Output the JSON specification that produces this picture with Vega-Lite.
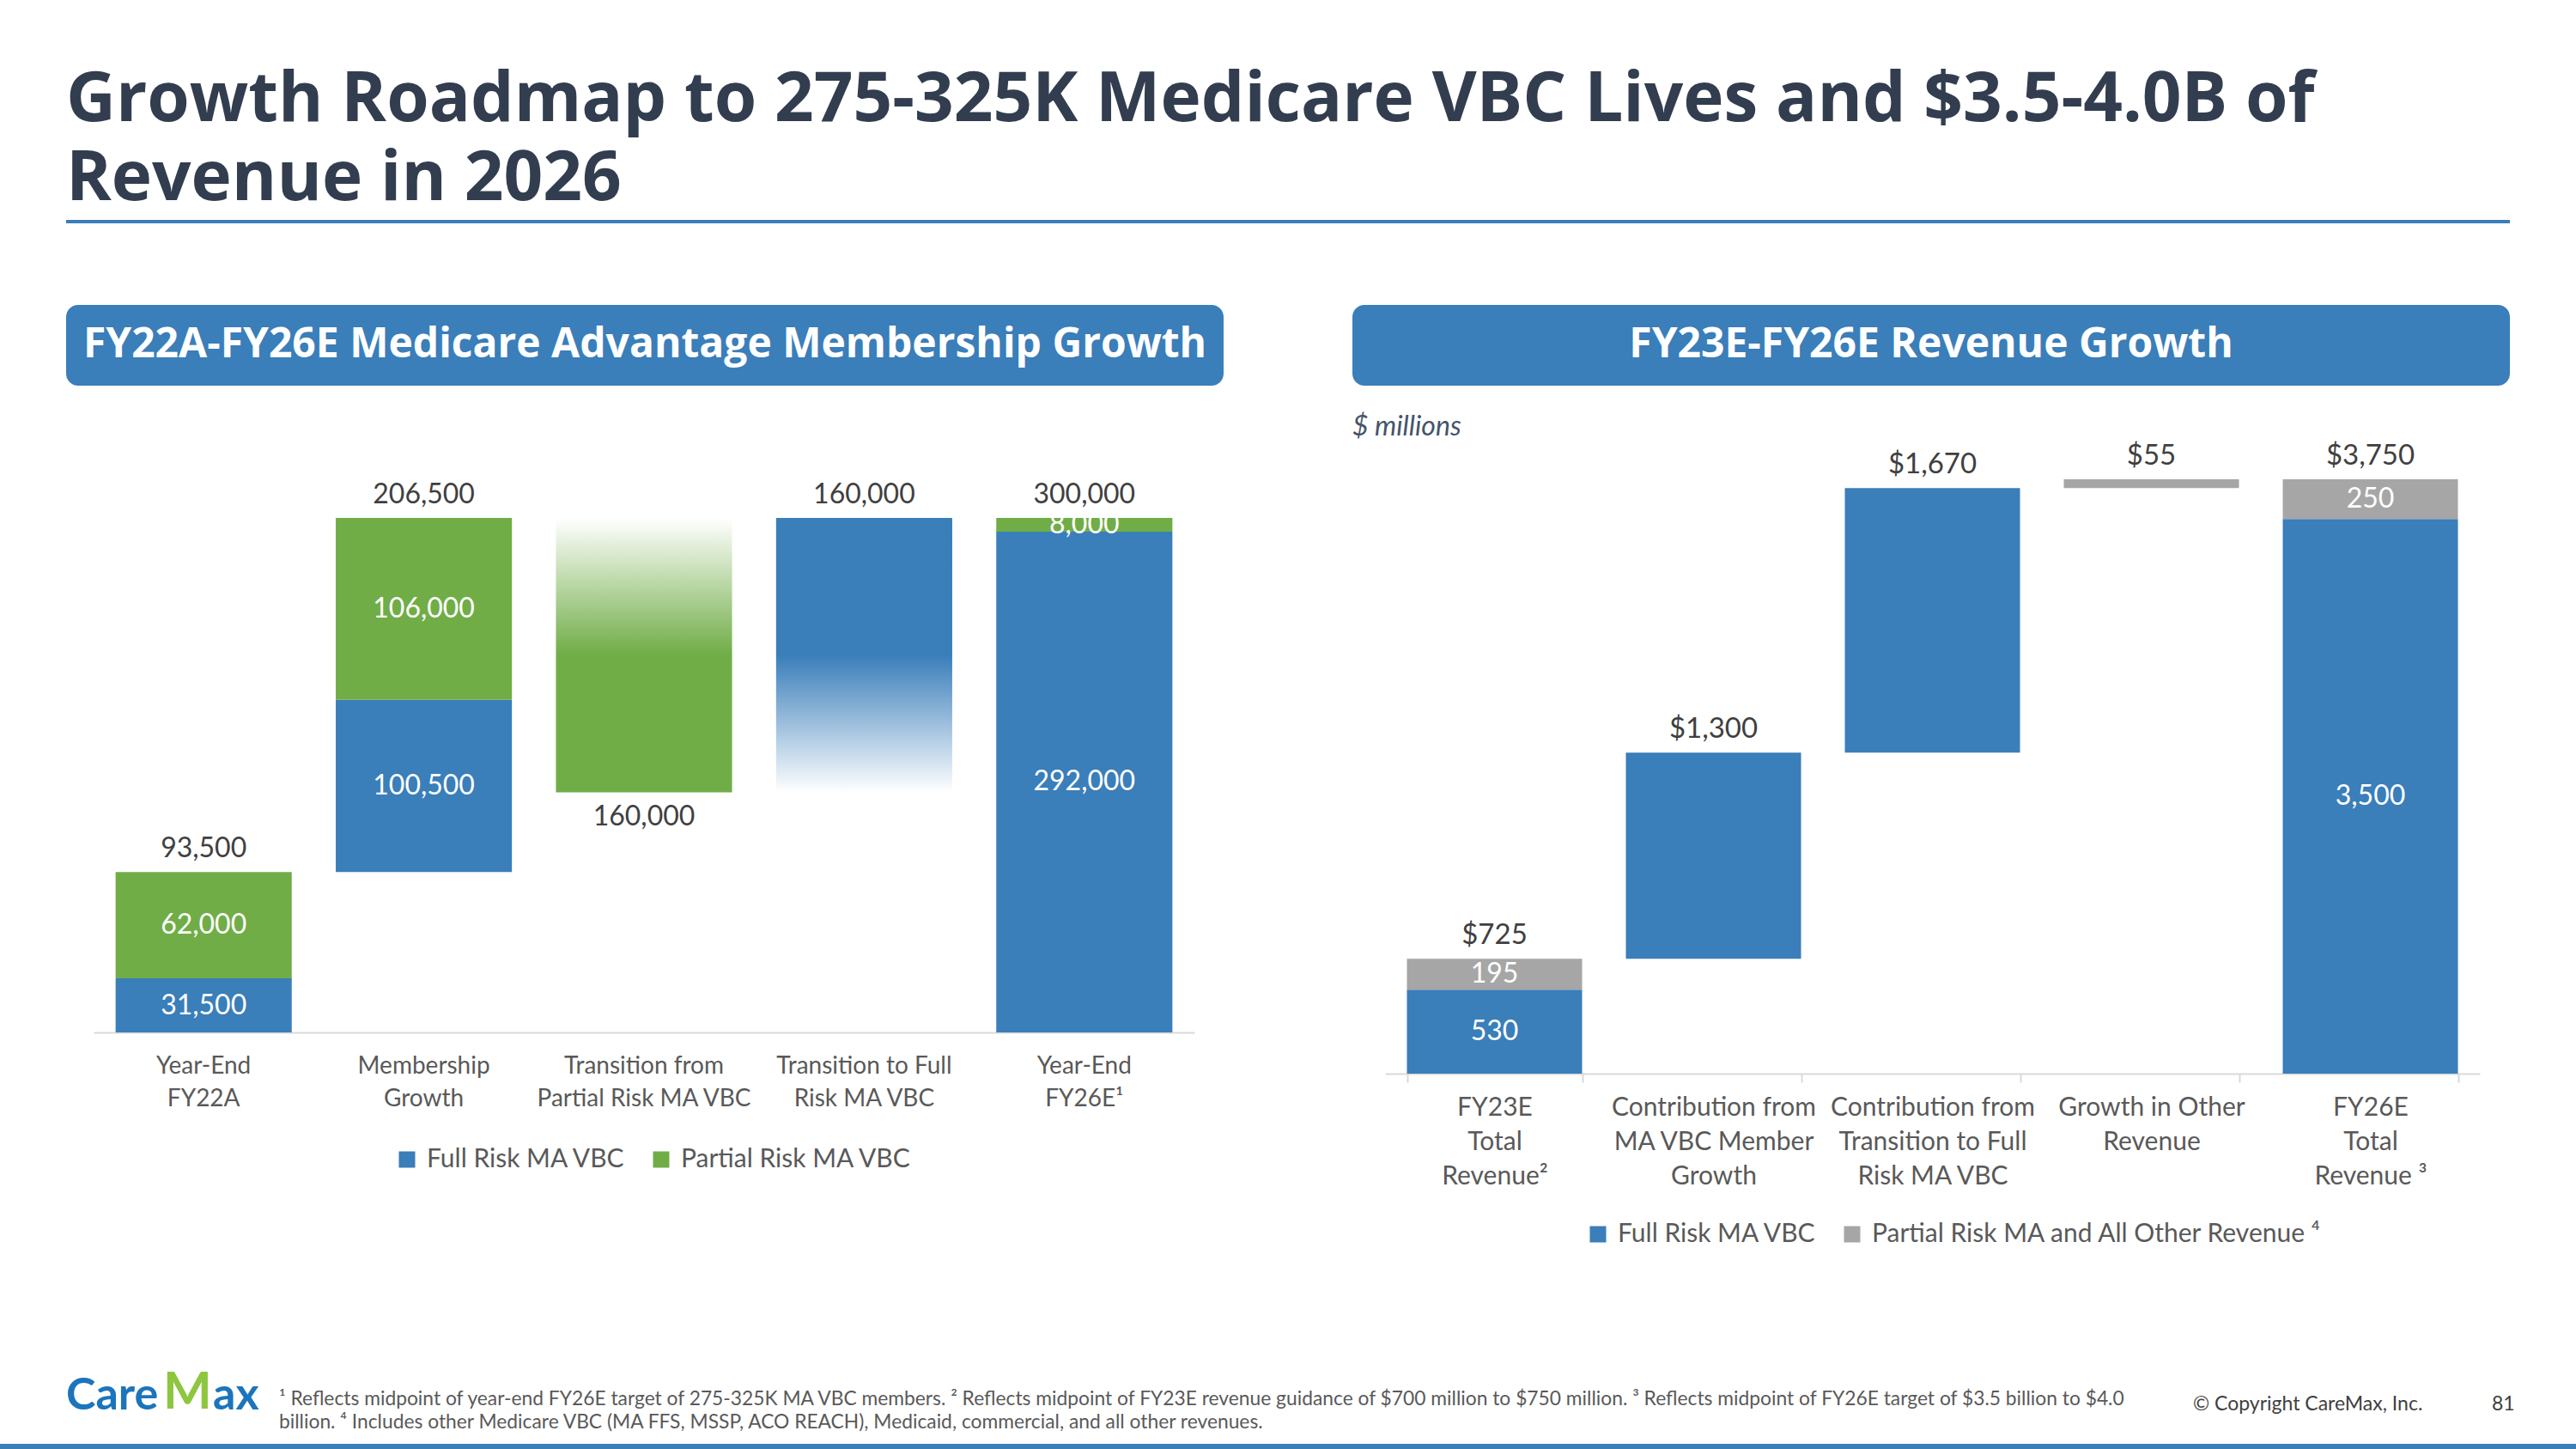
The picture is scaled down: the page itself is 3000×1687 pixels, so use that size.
{
  "$schema": "https://vega.github.io/schema/vega-lite/v6.json",
  "background": "white",
  "padding": {"left": 0, "top": 77, "right": 0, "bottom": 0},
  "spacing": 0,
  "datasets": {
    "memberSeg": [
      {"step": "Year-End FY22A", "series": "Full Risk MA VBC", "start": 0, "end": 31500, "amount": 31500},
      {"step": "Year-End FY22A", "series": "Partial Risk MA VBC", "start": 31500, "end": 93500, "amount": 62000},
      {"step": "Membership Growth", "series": "Full Risk MA VBC", "start": 93500, "end": 194000, "amount": 100500},
      {"step": "Membership Growth", "series": "Partial Risk MA VBC", "start": 194000, "end": 300000, "amount": 106000},
      {"step": "Transition from Partial Risk MA VBC", "series": "Partial Risk MA VBC", "start": 140000, "end": 300000, "amount": 160000},
      {"step": "Transition to Full Risk MA VBC", "series": "Full Risk MA VBC", "start": 140000, "end": 300000, "amount": 160000},
      {"step": "Year-End FY26E", "series": "Full Risk MA VBC", "start": 0, "end": 292000, "amount": 292000},
      {"step": "Year-End FY26E", "series": "Partial Risk MA VBC", "start": 292000, "end": 300000, "amount": 8000}
    ],
    "memberTotals": [
      {"step": "Year-End FY22A", "total": 93500, "low": 0, "high": 93500, "direction": "up"},
      {"step": "Membership Growth", "total": 206500, "low": 93500, "high": 300000, "direction": "up"},
      {"step": "Transition from Partial Risk MA VBC", "total": 160000, "low": 140000, "high": 300000, "direction": "down"},
      {"step": "Transition to Full Risk MA VBC", "total": 160000, "low": 140000, "high": 300000, "direction": "up"},
      {"step": "Year-End FY26E", "total": 300000, "low": 0, "high": 300000, "direction": "up"}
    ],
    "revSeg": [
      {"step": "FY23E Total Revenue", "series": "Full Risk MA VBC", "start": 0, "end": 530, "amount": 530},
      {"step": "FY23E Total Revenue", "series": "Partial Risk MA and All Other Revenue", "start": 530, "end": 725, "amount": 195},
      {"step": "Contribution from MA VBC Member Growth", "series": "Full Risk MA VBC", "start": 725, "end": 2025, "amount": 1300},
      {"step": "Contribution from Transition to Full Risk MA VBC", "series": "Full Risk MA VBC", "start": 2025, "end": 3695, "amount": 1670},
      {"step": "Growth in Other Revenue", "series": "Partial Risk MA and All Other Revenue", "start": 3695, "end": 3750, "amount": 55},
      {"step": "FY26E Total Revenue", "series": "Full Risk MA VBC", "start": 0, "end": 3500, "amount": 3500},
      {"step": "FY26E Total Revenue", "series": "Partial Risk MA and All Other Revenue", "start": 3500, "end": 3750, "amount": 250}
    ],
    "revTotals": [
      {"step": "FY23E Total Revenue", "total": 725, "high": 725},
      {"step": "Contribution from MA VBC Member Growth", "total": 1300, "high": 2025},
      {"step": "Contribution from Transition to Full Risk MA VBC", "total": 1670, "high": 3695},
      {"step": "Growth in Other Revenue", "total": 55, "high": 3750},
      {"step": "FY26E Total Revenue", "total": 3750, "high": 3750}
    ]
  },
  "vconcat": [
    {
      "spacing": 76,
      "hconcat": [
        {"width": 1, "height": 1, "data": {"values": []}, "mark": "point"},
        {
          "width": 2846, "height": 4,
          "view": {"fill": "#3A7EBA", "stroke": null},
          "title": {
            "text": ["Growth Roadmap to 275-325K Medicare VBC Lives and $3.5-4.0B of", "Revenue in 2026"],
            "anchor": "start", "font": "Open Sans", "fontSize": 80, "fontWeight": "bold",
            "color": "#323E4F", "lineHeight": 92, "offset": 6
          },
          "data": {"values": []}, "mark": "point"
        }
      ]
    },
    {"width": 1, "height": 95, "data": {"values": []}, "mark": "point"},
    {
      "spacing": 76,
      "resolve": {"scale": {"color": "independent"}, "legend": {"color": "independent"}},
      "hconcat": [
        {"width": 1, "height": 1, "data": {"values": []}, "mark": "point"},
        {
          "spacing": 150,
          "resolve": {"scale": {"color": "independent"}, "legend": {"color": "independent"}},
          "hconcat": [
            {
              "spacing": 53,
              "resolve": {"scale": {"color": "independent"}, "legend": {"color": "independent"}},
              "vconcat": [
                {
                  "width": 1348, "height": 94,
                  "view": {"fill": "#3A7EBA", "cornerRadius": 14, "stroke": null},
                  "data": {"values": [{"heading": "FY22A-FY26E Medicare Advantage Membership Growth"}]},
                  "mark": {"type": "text", "font": "Open Sans", "fontWeight": "bold", "fontSize": 48, "color": "white", "baseline": "middle"},
                  "encoding": {"text": {"field": "heading"}}
                },
                {
                  "spacing": 31,
                  "resolve": {"scale": {"color": "independent"}, "legend": {"color": "independent"}},
                  "hconcat": [
                    {"width": 1, "height": 1, "data": {"values": []}, "mark": "point"},
                    {
                      "width": 1282, "height": 700,
                      "layer": [
                        {
                          "data": {"name": "memberSeg"},
                          "transform": [{"filter": {"field": "step", "oneOf": ["Year-End FY22A", "Membership Growth", "Year-End FY26E"]}}],
                          "mark": {"type": "bar"},
                          "encoding": {
                            "x": {
                              "field": "step", "type": "nominal",
                              "sort": ["Year-End FY22A", "Membership Growth", "Transition from Partial Risk MA VBC", "Transition to Full Risk MA VBC", "Year-End FY26E"],
                              "scale": {"paddingInner": 0.2, "paddingOuter": 0.1},
                              "axis": {
                                "title": null, "labelAngle": 0, "ticks": false, "domainColor": "#D9D9D9", "domainWidth": 2,
                                "labelFont": "Lato", "labelFontSize": 28, "labelColor": "#595959", "labelLineHeight": 38,
                                "labelPadding": 25, "labelLimit": 0,
                                "labelExpr": "datum.value == 'Year-End FY22A' ? ['Year-End', 'FY22A'] : datum.value == 'Membership Growth' ? ['Membership', 'Growth'] : datum.value == 'Transition from Partial Risk MA VBC' ? ['Transition from', 'Partial Risk MA VBC'] : datum.value == 'Transition to Full Risk MA VBC' ? ['Transition to Full', 'Risk MA VBC'] : datum.value == 'Year-End FY26E' ? ['Year-End', 'FY26E¹'] : ''"
                              }
                            },
                            "y": {"field": "start", "type": "quantitative", "scale": {"domain": [0, 350584], "nice": false, "zero": true}, "axis": null},
                            "y2": {"field": "end"},
                            "color": {
                              "field": "series", "type": "nominal",
                              "scale": {"domain": ["Full Risk MA VBC", "Partial Risk MA VBC"], "range": ["#3A7EBA", "#70AD47"]},
                              "legend": {
                                "title": null, "orient": "none", "legendX": 350, "legendY": 833, "direction": "horizontal",
                                "symbolType": "square", "symbolSize": 361, "symbolStrokeWidth": 0,
                                "labelFont": "Lato", "labelFontSize": 30, "labelColor": "#595959", "labelOffset": 8,
                                "columnPadding": 26, "labelLimit": 0
                              }
                            }
                          }
                        },
                        {
                          "data": {"name": "memberSeg"},
                          "transform": [{"filter": {"field": "step", "equal": "Transition from Partial Risk MA VBC"}}],
                          "mark": {"type": "bar", "fill": {"gradient": "linear", "x1": 0, "y1": 0, "x2": 0, "y2": 1, "stops": [{"offset": 0, "color": "#FFFFFF"}, {"offset": 0.5, "color": "#70AD47"}, {"offset": 1, "color": "#70AD47"}]}},
                          "encoding": {
                            "x": {"field": "step", "type": "nominal", "sort": ["Year-End FY22A", "Membership Growth", "Transition from Partial Risk MA VBC", "Transition to Full Risk MA VBC", "Year-End FY26E"]},
                            "y": {"field": "start", "type": "quantitative", "axis": null},
                            "y2": {"field": "end"}
                          }
                        },
                        {
                          "data": {"name": "memberSeg"},
                          "transform": [{"filter": {"field": "step", "equal": "Transition to Full Risk MA VBC"}}],
                          "mark": {"type": "bar", "fill": {"gradient": "linear", "x1": 0, "y1": 0, "x2": 0, "y2": 1, "stops": [{"offset": 0, "color": "#3A7EBA"}, {"offset": 0.5, "color": "#3A7EBA"}, {"offset": 1, "color": "#FFFFFF"}]}},
                          "encoding": {
                            "x": {"field": "step", "type": "nominal", "sort": ["Year-End FY22A", "Membership Growth", "Transition from Partial Risk MA VBC", "Transition to Full Risk MA VBC", "Year-End FY26E"]},
                            "y": {"field": "start", "type": "quantitative", "axis": null},
                            "y2": {"field": "end"}
                          }
                        },
                        {
                          "data": {"name": "memberSeg"},
                          "transform": [
                            {"filter": {"field": "step", "oneOf": ["Year-End FY22A", "Membership Growth", "Year-End FY26E"]}},
                            {"calculate": "(datum.start + datum.end) / 2", "as": "mid"}
                          ],
                          "mark": {"type": "text", "font": "Lato", "fontSize": 32, "color": "white", "baseline": "middle"},
                          "encoding": {
                            "x": {"field": "step", "type": "nominal", "sort": ["Year-End FY22A", "Membership Growth", "Transition from Partial Risk MA VBC", "Transition to Full Risk MA VBC", "Year-End FY26E"]},
                            "y": {"field": "mid", "type": "quantitative", "axis": null},
                            "text": {"field": "amount", "type": "quantitative", "format": ","}
                          }
                        },
                        {
                          "data": {"name": "memberTotals"},
                          "transform": [{"filter": "datum.direction == 'up'"}],
                          "mark": {"type": "text", "font": "Lato", "fontSize": 32, "color": "#404040", "baseline": "middle", "dy": -27},
                          "encoding": {
                            "x": {"field": "step", "type": "nominal", "sort": ["Year-End FY22A", "Membership Growth", "Transition from Partial Risk MA VBC", "Transition to Full Risk MA VBC", "Year-End FY26E"]},
                            "y": {"field": "high", "type": "quantitative", "axis": null},
                            "text": {"field": "total", "type": "quantitative", "format": ","}
                          }
                        },
                        {
                          "data": {"name": "memberTotals"},
                          "transform": [{"filter": "datum.direction == 'down'"}],
                          "mark": {"type": "text", "font": "Lato", "fontSize": 32, "color": "#404040", "baseline": "middle", "dy": 29},
                          "encoding": {
                            "x": {"field": "step", "type": "nominal", "sort": ["Year-End FY22A", "Membership Growth", "Transition from Partial Risk MA VBC", "Transition to Full Risk MA VBC", "Year-End FY26E"]},
                            "y": {"field": "low", "type": "quantitative", "axis": null},
                            "text": {"field": "total", "type": "quantitative", "format": ","}
                          }
                        }
                      ]
                    }
                  ]
                }
              ]
            },
            {
              "spacing": 32,
              "resolve": {"scale": {"color": "independent"}, "legend": {"color": "independent"}},
              "vconcat": [
                {
                  "width": 1348, "height": 94,
                  "view": {"fill": "#3A7EBA", "cornerRadius": 14, "stroke": null},
                  "data": {"values": [{"heading": "FY23E-FY26E Revenue Growth"}]},
                  "mark": {"type": "text", "font": "Open Sans", "fontWeight": "bold", "fontSize": 48, "color": "white", "baseline": "middle"},
                  "encoding": {"text": {"field": "heading"}}
                },
                {
                  "title": {"text": "$ millions", "anchor": "start", "font": "Lato", "fontStyle": "italic", "fontWeight": "normal", "fontSize": 32, "color": "#44546A", "offset": -8},
                  "spacing": 37,
                  "resolve": {"scale": {"color": "independent"}, "legend": {"color": "independent"}},
                  "hconcat": [
                    {"width": 1, "height": 1, "data": {"values": []}, "mark": "point"},
                    {
                      "width": 1275, "height": 744,
                      "layer": [
                        {
                          "data": {"name": "revSeg"},
                          "mark": {"type": "bar"},
                          "encoding": {
                            "x": {
                              "field": "step", "type": "nominal",
                              "sort": ["FY23E Total Revenue", "Contribution from MA VBC Member Growth", "Contribution from Transition to Full Risk MA VBC", "Growth in Other Revenue", "FY26E Total Revenue"],
                              "scale": {"paddingInner": 0.2, "paddingOuter": 0.1},
                              "axis": {
                                "title": null, "labelAngle": 0, "ticks": true, "tickBand": "extent", "tickSize": 10, "tickColor": "#D9D9D9", "tickWidth": 2,
                                "domainColor": "#D9D9D9", "domainWidth": 2,
                                "labelFont": "Lato", "labelFontSize": 30, "labelColor": "#595959", "labelLineHeight": 40,
                                "labelPadding": 14, "labelLimit": 0,
                                "labelExpr": "datum.value == 'FY23E Total Revenue' ? ['FY23E', 'Total', 'Revenue²'] : datum.value == 'Contribution from MA VBC Member Growth' ? ['Contribution from', 'MA VBC Member', 'Growth'] : datum.value == 'Contribution from Transition to Full Risk MA VBC' ? ['Contribution from', 'Transition to Full', 'Risk MA VBC'] : datum.value == 'Growth in Other Revenue' ? ['Growth in Other', 'Revenue'] : datum.value == 'FY26E Total Revenue' ? ['FY26E', 'Total', 'Revenue ³'] : ''"
                              }
                            },
                            "y": {"field": "start", "type": "quantitative", "scale": {"domain": [0, 4031.8], "nice": false, "zero": true}, "axis": null},
                            "y2": {"field": "end"},
                            "color": {
                              "field": "series", "type": "nominal",
                              "scale": {"domain": ["Full Risk MA VBC", "Partial Risk MA and All Other Revenue"], "range": ["#3A7EBA", "#A6A6A6"]},
                              "legend": {
                                "title": null, "orient": "none", "legendX": 233, "legendY": 916, "direction": "horizontal",
                                "symbolType": "square", "symbolSize": 361, "symbolStrokeWidth": 0,
                                "labelFont": "Lato", "labelFontSize": 30, "labelColor": "#595959", "labelOffset": 8,
                                "columnPadding": 26, "labelLimit": 0,
                                "labelExpr": "datum.label == 'Partial Risk MA and All Other Revenue' ? datum.label + '   ⁴' : datum.label"
                              }
                            }
                          }
                        },
                        {
                          "data": {"name": "revSeg"},
                          "transform": [
                            {"filter": {"field": "step", "oneOf": ["FY23E Total Revenue", "FY26E Total Revenue"]}},
                            {"calculate": "(datum.start + datum.end) / 2", "as": "mid"}
                          ],
                          "mark": {"type": "text", "font": "Lato", "fontSize": 32, "color": "white", "baseline": "middle"},
                          "encoding": {
                            "x": {"field": "step", "type": "nominal", "sort": ["FY23E Total Revenue", "Contribution from MA VBC Member Growth", "Contribution from Transition to Full Risk MA VBC", "Growth in Other Revenue", "FY26E Total Revenue"]},
                            "y": {"field": "mid", "type": "quantitative", "axis": null},
                            "text": {"field": "amount", "type": "quantitative", "format": ","}
                          }
                        },
                        {
                          "data": {"name": "revTotals"},
                          "mark": {"type": "text", "font": "Lato", "fontSize": 33, "color": "#404040", "baseline": "middle", "dy": -27},
                          "encoding": {
                            "x": {"field": "step", "type": "nominal", "sort": ["FY23E Total Revenue", "Contribution from MA VBC Member Growth", "Contribution from Transition to Full Risk MA VBC", "Growth in Other Revenue", "FY26E Total Revenue"]},
                            "y": {"field": "high", "type": "quantitative", "axis": null},
                            "text": {"field": "total", "type": "quantitative", "format": "$,"}
                          }
                        }
                      ]
                    }
                  ]
                }
              ]
            }
          ]
        }
      ]
    },
    {"width": 1, "height": 140, "data": {"values": []}, "mark": "point"},
    {
      "spacing": 0,
      "hconcat": [
        {"width": 77, "height": 1, "data": {"values": []}, "mark": "point"},
        {"width": 113, "height": 1, "data": {"values": []}, "mark": "point",
         "title": {"text": "Care", "orient": "bottom", "anchor": "start", "font": "Lato", "fontSize": 52, "fontWeight": "bold", "color": "#1C75BC", "offset": 5}},
        {"width": 58, "height": 1, "data": {"values": []}, "mark": "point",
         "title": {"text": "M", "orient": "bottom", "anchor": "start", "font": "Lato", "fontSize": 60, "fontWeight": "bold", "color": "#8DC63F", "offset": -2}},
        {"width": 77, "height": 1, "data": {"values": []}, "mark": "point",
         "title": {"text": "ax", "orient": "bottom", "anchor": "start", "font": "Lato", "fontSize": 52, "fontWeight": "bold", "color": "#1C75BC", "offset": 5}},
        {"width": 2229, "height": 1, "data": {"values": []}, "mark": "point",
         "title": {"text": ["¹ Reflects midpoint of year-end FY26E target of 275-325K MA VBC members. ² Reflects midpoint of FY23E revenue guidance of $700 million to $750 million. ³ Reflects midpoint of FY26E target of $3.5 billion to $4.0", "billion. ⁴ Includes other Medicare VBC (MA FFS, MSSP, ACO REACH), Medicaid, commercial, and all other revenues."], "orient": "bottom", "anchor": "start", "font": "Lato", "fontSize": 22.8, "fontWeight": "normal", "color": "#595959", "lineHeight": 27, "offset": 23}},
        {"width": 348, "height": 1, "data": {"values": []}, "mark": "point",
         "title": {"text": "© Copyright CareMax, Inc.", "orient": "bottom", "anchor": "start", "font": "Lato", "fontSize": 23, "fontWeight": "normal", "color": "#404040", "offset": 29}},
        {"width": 30, "height": 1, "data": {"values": []}, "mark": "point",
         "title": {"text": "81", "orient": "bottom", "anchor": "start", "font": "Lato", "fontSize": 23, "fontWeight": "normal", "color": "#404040", "offset": 29}}
      ]
    },
    {"width": 1, "height": 13, "data": {"values": []}, "mark": "point"},
    {"width": 3000, "height": 9, "view": {"fill": "#3A7EBA", "stroke": null}, "data": {"values": []}, "mark": "point"}
  ],
  "config": {
    "view": {"stroke": null},
    "font": "Lato",
    "concat": {"spacing": 0}
  }
}
